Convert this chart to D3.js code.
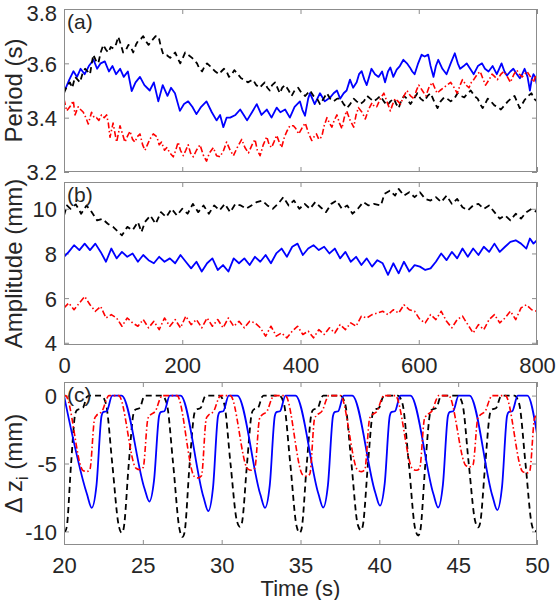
<!DOCTYPE html>
<html><head><meta charset="utf-8">
<script src="https://cdn.jsdelivr.net/npm/d3@7"></script>
<style>body{margin:0;background:#fff}svg{display:block}</style>
</head><body>
<svg id="chart" width="556" height="600"></svg>
<script>
// ---------- data ----------
const xTicksTop = [0, 200, 400, 600, 800];
const xTicksBottom = [20, 25, 30, 35, 40, 45, 50];
const periodTicks = [3.2, 3.4, 3.6, 3.8];
const ampTicks = [4, 6, 8, 10];
const dzTicks = [-10, -5, 0];

const periodBlue = [[0,3.50],[2,3.504],[9,3.54],[16,3.571],[22,3.55],[28,3.58],[35,3.56],[42,3.59],[50,3.613],[56,3.58],[62,3.60],[69,3.607],[76,3.57],[82,3.59],[88,3.56],[95,3.58],[101,3.55],[108,3.57],[114.5,3.498],[121,3.53],[128.5,3.55],[136,3.52],[145,3.50],[152,3.53],[159.5,3.46],[167,3.52],[175,3.48],[181,3.51],[187.7,3.49],[196,3.425],[203,3.45],[210,3.46],[217,3.44],[224,3.413],[232,3.44],[241,3.46],[250,3.42],[258,3.39],[264,3.41],[269.5,3.365],[275,3.40],[281,3.40],[290,3.41],[298,3.43],[304,3.41],[309.6,3.39],[318,3.42],[326,3.45],[334,3.41],[343,3.43],[351,3.40],[359.7,3.437],[366,3.42],[374,3.43],[382,3.40],[390,3.44],[399,3.46],[403,3.43],[407.6,3.407],[413,3.47],[416,3.49],[424,3.45],[433,3.49],[441,3.46],[450,3.474],[456,3.49],[461.7,3.50],[467,3.47],[473,3.49],[478,3.50],[483.7,3.54],[489,3.51],[495,3.53],[499,3.56],[503.5,3.571],[508,3.54],[512,3.52],[516,3.55],[520,3.58],[526,3.56],[532,3.55],[538,3.57],[543,3.53],[548,3.57],[552,3.585],[557,3.55],[562.7,3.577],[568,3.59],[574,3.613],[580,3.60],[585,3.585],[589,3.57],[593,3.56],[599,3.60],[604.9,3.632],[610,3.625],[616,3.632],[620,3.59],[625,3.55],[629,3.59],[633,3.613],[640,3.58],[647,3.56],[654,3.60],[661,3.637],[666,3.60],[670,3.58],[676,3.59],[681,3.60],[687,3.58],[693,3.56],[700,3.59],[707,3.60],[712,3.58],[718,3.57],[725,3.59],[732,3.56],[736,3.58],[740,3.60],[745,3.57],[749,3.555],[755,3.57],[760,3.58],[766,3.56],[771,3.545],[775,3.56],[779,3.58],[784,3.55],[788,3.50],[791,3.54],[794,3.56],[797,3.55],[800,3.52]];

const periodRed = [[0,3.468],[4.5,3.425],[10,3.44],[15.8,3.462],[18.6,3.41],[24,3.44],[28,3.43],[32.7,3.42],[37,3.40],[41,3.377],[46.6,3.42],[51,3.40],[55,3.40],[59,3.39],[63.5,3.41],[68,3.40],[72,3.41],[75,3.38],[77.8,3.328],[83,3.38],[89,3.31],[94.7,3.37],[99,3.34],[103,3.31],[107,3.33],[111.6,3.35],[116,3.32],[120,3.31],[124,3.33],[128.5,3.34],[133,3.30],[137,3.28],[141,3.30],[145,3.32],[151,3.34],[157,3.33],[161,3.30],[165,3.31],[170,3.28],[174,3.29],[179,3.27],[184.8,3.256],[189,3.28],[193,3.31],[197,3.28],[201.7,3.26],[206,3.28],[210,3.30],[214,3.27],[218.6,3.256],[224,3.28],[230,3.30],[236,3.26],[241,3.24],[246,3.27],[252.6,3.29],[258,3.26],[264,3.256],[270,3.28],[275,3.31],[281,3.28],[286.6,3.26],[293,3.29],[300.6,3.32],[306,3.29],[312,3.27],[318,3.30],[323,3.32],[327,3.28],[331.6,3.26],[337,3.30],[343,3.33],[347,3.30],[351,3.29],[355,3.31],[359.7,3.335],[364,3.31],[368,3.29],[373,3.33],[377,3.35],[382,3.37],[388,3.37],[392,3.36],[397,3.34],[402,3.36],[408,3.38],[414,3.34],[419,3.316],[423,3.33],[427,3.34],[431,3.32],[436,3.33],[440,3.37],[444.7,3.40],[449,3.38],[453,3.365],[457,3.39],[461.6,3.41],[466,3.38],[470,3.36],[474,3.40],[478,3.425],[484,3.39],[490,3.365],[494,3.41],[498,3.437],[504,3.42],[509.6,3.395],[515,3.43],[521,3.455],[525,3.44],[529,3.44],[535,3.47],[541,3.49],[546,3.46],[552,3.425],[556,3.45],[560,3.47],[565,3.46],[569,3.45],[575,3.48],[580,3.50],[586,3.48],[592,3.47],[596,3.50],[600,3.52],[606,3.50],[612,3.48],[617,3.51],[623,3.53],[627,3.51],[631,3.49],[636,3.50],[642,3.51],[648,3.52],[654,3.53],[660,3.51],[665,3.49],[670,3.52],[674,3.54],[680,3.52],[685,3.51],[689,3.53],[693,3.54],[699,3.56],[704,3.57],[709,3.54],[713,3.52],[719,3.54],[724,3.56],[729,3.55],[733,3.54],[739,3.56],[744,3.57],[750,3.55],[755,3.53],[761,3.56],[766,3.575],[770,3.56],[775,3.55],[779,3.56],[783,3.57],[789,3.55],[794,3.53],[797,3.55],[800,3.55]];

const periodBlack = [[0,3.49],[1.7,3.50],[6,3.52],[10,3.53],[14,3.51],[18.6,3.55],[23,3.54],[27,3.53],[31,3.56],[35.8,3.58],[40,3.57],[44,3.56],[47,3.60],[49.6,3.632],[54,3.61],[58,3.60],[62,3.64],[66.5,3.668],[71,3.65],[75,3.64],[79,3.66],[83.5,3.655],[88,3.67],[91.8,3.698],[96,3.67],[100,3.64],[105,3.65],[109,3.668],[113,3.66],[117,3.64],[122,3.67],[126,3.685],[130,3.69],[134,3.70],[139,3.68],[143,3.668],[147,3.68],[151,3.69],[155,3.70],[160,3.698],[164,3.66],[168,3.632],[174,3.63],[179.6,3.62],[184,3.63],[188,3.64],[192,3.62],[196.6,3.60],[201,3.62],[205,3.64],[211,3.63],[216.6,3.62],[221,3.61],[225,3.60],[229,3.58],[233.6,3.57],[238,3.59],[242,3.60],[247,3.59],[251,3.58],[256,3.57],[262,3.56],[266,3.57],[270.7,3.58],[275,3.57],[279,3.55],[284,3.56],[288,3.575],[294,3.56],[299.6,3.545],[305,3.54],[311,3.53],[315,3.535],[319.6,3.54],[325,3.52],[331,3.51],[335,3.52],[339.6,3.53],[344,3.51],[348,3.50],[352,3.52],[357,3.53],[361,3.51],[365,3.49],[369,3.51],[374,3.52],[380,3.50],[385,3.48],[390,3.50],[396,3.51],[402,3.49],[408,3.48],[412,3.49],[416,3.50],[422,3.48],[428,3.47],[433,3.45],[439,3.47],[444.7,3.49],[450,3.47],[456,3.46],[462,3.47],[467.6,3.47],[473,3.45],[478.6,3.435],[484,3.45],[490,3.47],[495,3.46],[501,3.45],[507,3.46],[512.6,3.48],[518,3.47],[524,3.46],[530,3.47],[535,3.48],[541,3.46],[546.6,3.445],[552,3.46],[558,3.47],[562,3.45],[566,3.435],[570,3.46],[575,3.48],[580,3.47],[586,3.45],[592,3.47],[597.6,3.49],[603,3.47],[609,3.46],[615,3.48],[620,3.49],[626,3.46],[631.7,3.435],[637,3.46],[643,3.475],[648,3.47],[654,3.46],[660,3.47],[665.6,3.49],[671,3.48],[677,3.475],[683,3.49],[688,3.50],[694,3.48],[699.6,3.47],[704,3.45],[708,3.435],[712,3.45],[716.6,3.47],[722,3.46],[728,3.445],[733,3.44],[739,3.43],[745,3.445],[750.7,3.46],[756,3.47],[762,3.48],[766,3.46],[770.7,3.435],[775,3.45],[779,3.465],[785,3.48],[790.6,3.49],[795,3.47],[800,3.46]];

const ampBlack = [[0,9.70],[5,10.15],[11,10.0],[20,10.2],[29,9.78],[38,10.15],[47,9.85],[56,9.48],[65,9.55],[74,9.33],[83,9.19],[92,8.96],[98,8.81],[107,9.19],[116,9.04],[125,9.41],[131,8.96],[137,9.41],[146,9.70],[155,9.33],[164,9.85],[173,9.63],[182,10.0],[191,9.70],[200,10.0],[209,9.78],[218,10.22],[227,9.85],[236,10.15],[245,9.78],[254,10.15],[263,9.93],[272,10.22],[281,9.85],[290,10.22],[299,10.15],[308,10.0],[317,10.15],[326,10.3],[335,10.37],[344,10.15],[353,10.0],[362,10.22],[371,10.52],[380,10.15],[389,10.37],[398,10.0],[407,10.22],[416,10.0],[425,10.3],[434,10.07],[443,9.85],[452,10.22],[461,10.37],[470,10.0],[479,10.15],[488,9.78],[497,10.0],[506,10.3],[515,10.15],[524,10.22],[536,10.15],[542,10.67],[551,10.81],[560,10.59],[566,10.89],[575,10.59],[584,10.74],[593,10.52],[602,10.74],[611,10.44],[620,10.37],[629,10.52],[638,10.3],[647,10.59],[656,10.22],[665,10.44],[674,10.07],[683,9.93],[692,10.15],[701,10.22],[710,10.0],[719,10.15],[728,9.85],[737,9.56],[746,9.70],[755,9.48],[764,9.78],[773,9.56],[782,9.85],[791,10.0],[800,9.85]];

const ampBlue = [[0,7.85],[8,8.07],[17,8.37],[26,8.15],[35,8.44],[44,8.15],[53,8.44],[62,8.07],[71,7.63],[80,8.22],[89,7.78],[98,8.07],[107,7.85],[116,8.0],[125,7.63],[134,7.93],[143,7.70],[152,7.56],[161,7.85],[170,7.63],[179,7.78],[188,7.56],[197,7.93],[206,7.63],[215,7.33],[224,7.63],[233,7.19],[242,7.56],[251,7.78],[260,7.26],[269,7.48],[278,7.19],[287,7.78],[296,7.56],[305,7.78],[314,7.48],[323,7.85],[332,7.63],[341,7.93],[350,7.56],[359,8.0],[368,8.22],[377,7.85],[386,8.30],[395,8.44],[404,7.93],[413,8.22],[422,8.37],[431,8.15],[440,8.30],[449,8.0],[458,8.22],[467,7.78],[476,8.07],[485,7.63],[494,7.85],[503,7.48],[512,7.78],[521,7.41],[530,7.70],[539,7.56],[548,7.04],[557,7.56],[566,7.11],[575,7.63],[584,7.19],[593,7.48],[602,7.41],[611,7.26],[620,7.33],[629,7.63],[638,8.0],[647,7.70],[656,8.07],[665,7.78],[674,8.22],[683,7.85],[692,8.22],[701,7.93],[710,8.30],[719,8.07],[728,8.44],[737,8.07],[746,8.30],[755,8.52],[764,8.59],[773,8.44],[782,8.22],[788,8.67],[794,8.44],[800,8.59]];

const ampRed = [[0,5.56],[8,5.78],[17,5.48],[26,5.78],[35,6.07],[44,5.70],[53,5.41],[62,5.63],[71,5.11],[80,5.26],[89,5.11],[98,4.74],[107,5.11],[116,4.89],[125,4.74],[134,5.04],[143,4.67],[152,4.96],[161,4.59],[170,5.11],[179,4.74],[188,5.04],[197,4.67],[206,5.19],[215,4.81],[224,5.04],[233,4.67],[242,5.11],[251,4.74],[260,5.04],[269,4.67],[278,5.11],[287,4.74],[296,4.96],[305,4.67],[314,4.96],[323,4.89],[332,4.67],[341,4.30],[350,4.74],[359,4.30],[368,4.44],[377,4.22],[386,4.52],[395,4.74],[404,4.37],[413,4.52],[422,4.22],[431,4.59],[440,4.37],[449,4.67],[458,4.44],[467,4.81],[476,4.59],[485,4.89],[494,4.74],[503,5.19],[512,5.11],[521,5.26],[530,5.33],[539,5.41],[548,5.26],[557,5.48],[566,5.33],[575,5.70],[584,5.48],[593,5.41],[602,5.04],[611,4.89],[620,5.26],[629,5.04],[638,5.41],[647,4.96],[656,4.67],[665,5.04],[674,5.19],[683,4.81],[692,4.44],[701,4.81],[710,4.59],[719,5.04],[728,5.26],[737,4.89],[746,5.11],[755,5.41],[764,5.04],[773,5.56],[782,5.70],[791,5.48],[800,5.41]];

const dzBlue = [[20.0,0],[21.46,-7.27],[21.76,-8.26],[22.06,-6.61],[22.38,-1.5],[22.48,-1.22],[22.71,-1.15],[23.06,0],
 [23.65,0],[25.11,-6.86],[25.41,-7.8],[25.71,-6.24],[26.03,-1.5],[26.13,-1.22],[26.36,-1.15],[26.71,0],
 [27.39,0],[28.85,-7.48],[29.15,-8.5],[29.45,-6.8],[29.77,-1.5],[29.87,-1.22],[30.10,-1.15],[30.45,0],
 [30.99,0],[32.45,-7.27],[32.75,-8.26],[33.05,-6.61],[33.37,-1.5],[33.47,-1.22],[33.70,-1.15],[34.05,0],
 [34.68,0],[36.14,-7.25],[36.44,-8.24],[36.74,-6.59],[37.06,-1.5],[37.16,-1.22],[37.39,-1.15],[37.74,0],
 [38.28,0],[39.74,-7.13],[40.04,-8.1],[40.34,-6.48],[40.66,-1.5],[40.76,-1.22],[40.99,-1.15],[41.34,0],
 [41.97,0],[43.43,-7.25],[43.73,-8.24],[44.03,-6.59],[44.35,-1.5],[44.45,-1.22],[44.68,-1.15],[45.03,0],
 [45.72,0],[47.18,-7.42],[47.48,-8.43],[47.78,-6.74],[48.10,-1.5],[48.20,-1.22],[48.43,-1.15],[48.78,0],
 [49.39,0],[50.0,-2.8]];

const dzBlack = [[20.0,-9.97],[20.05,-10],[20.17,-9.7],[20.45,-5.0],[20.72,-1.3],[20.85,-1.05],[21.2,-0.9],[21.45,-0.1],[21.6,0],[22.36,0],[22.66,-0.6],[23.06,-5.0],[23.46,-9.5],[23.66,-10.1],
 [23.78,-9.8],[24.11,-5.0],[24.41,-1.3],[24.51,-1.05],[24.81,-0.9],[25.06,-0.1],[25.16,0],[26.22,0],[26.52,-0.6],[26.92,-5.0],[27.32,-9.8],[27.52,-10.4],
 [27.64,-10.1],[27.97,-5.0],[28.27,-1.3],[28.37,-1.05],[28.67,-0.9],[28.92,-0.1],[29.02,0],[29.86,0],[30.16,-0.6],[30.56,-5.0],[30.96,-9.2],[31.16,-9.66],
 [31.28,-9.4],[31.61,-5.0],[31.91,-1.3],[32.01,-1.05],[32.31,-0.9],[32.56,-0.1],[32.66,0],[33.65,0],[33.95,-0.6],[34.35,-5.0],[34.75,-9.6],[34.95,-10.1],
 [35.07,-9.8],[35.40,-5.0],[35.70,-1.3],[35.80,-1.05],[36.10,-0.9],[36.35,-0.1],[36.45,0],[37.53,0],[37.83,-0.6],[38.23,-5.0],[38.63,-9.5],[38.83,-9.9],
 [38.95,-9.6],[39.28,-5.0],[39.58,-1.3],[39.68,-1.05],[39.98,-0.9],[40.23,-0.1],[40.33,0],[41.17,0],[41.47,-0.6],[41.87,-5.0],[42.27,-9.8],[42.47,-10.3],
 [42.59,-10.0],[42.92,-5.0],[43.22,-1.3],[43.32,-1.05],[43.62,-0.9],[43.87,-0.1],[43.97,0],[44.97,0],[45.27,-0.6],[45.67,-5.0],[46.07,-9.2],[46.27,-9.7],
 [46.39,-9.4],[46.72,-5.0],[47.02,-1.3],[47.12,-1.05],[47.42,-0.9],[47.67,-0.1],[47.77,0],[48.57,0],[48.87,-0.6],[49.27,-5.0],[49.67,-9.5],[49.87,-10.0],[50.0,-9.9]];

const dzRed = [[20.0,0],[20.09,0],[21.19,-5.5],[21.44,-5.6],[21.64,-5.45],[21.94,-1.7],[22.04,-1.5],[22.44,-1.1],[22.69,-0.3],[22.84,0],
 [23.47,0],[24.57,-5.35],[24.82,-5.45],[25.02,-5.3],[25.32,-1.7],[25.42,-1.5],[25.82,-1.1],[26.07,-0.3],[26.22,0],
 [27.17,0],[28.27,-5.96],[28.52,-6.06],[28.72,-5.91],[29.02,-1.7],[29.12,-1.5],[29.52,-1.1],[29.77,-0.3],[29.92,0],
 [30.55,0],[31.65,-5.4],[31.9,-5.5],[32.1,-5.35],[32.4,-1.7],[32.5,-1.5],[32.9,-1.1],[33.15,-0.3],[33.3,0],
 [34.04,0],[35.14,-5.83],[35.39,-5.93],[35.59,-5.78],[35.89,-1.7],[35.99,-1.5],[36.39,-1.1],[36.64,-0.3],[36.79,0],
 [37.53,0],[38.63,-5.5],[38.88,-5.6],[39.08,-5.45],[39.38,-1.7],[39.48,-1.5],[39.88,-1.1],[40.13,-0.3],[40.28,0],
 [41.01,0],[42.11,-5.4],[42.36,-5.5],[42.56,-5.35],[42.86,-1.7],[42.96,-1.5],[43.36,-1.1],[43.61,-0.3],[43.76,0],
 [44.39,0],[45.49,-5.15],[45.74,-5.25],[45.94,-5.1],[46.24,-1.7],[46.34,-1.5],[46.74,-1.1],[46.99,-0.3],[47.14,0],
 [47.99,0],[49.09,-5.6],[49.34,-5.7],[49.54,-5.55],[49.84,-1.7],[49.94,-1.5],[50.0,-1.45]];

// ---------- layout ----------
const svg = d3.select("#chart");
const FONT = "'Liberation Sans', Arial, sans-serif";
const TXT = "#262626", FRAME = "#8c8c8c";
const L = 64, R = 537;

const panels = [
  {id:"a", top:9,   bottom:172, xd:[0,800], yd:[3.2,3.8],  xt:xTicksTop, yt:periodTicks, xlab:false,
   ylab:"Period (s)", tag:"(a)", series:[[periodBlue,"blue"],[periodBlack,"black"],[periodRed,"red"]], curve:d3.curveLinear},
  {id:"b", top:182, bottom:345, xd:[0,800], yd:[3.9,11.2], xt:xTicksTop, yt:ampTicks, xlab:true,
   ylab:"Amplitude (mm)", tag:"(b)", series:[[ampBlue,"blue"],[ampBlack,"black"],[ampRed,"red"]], curve:d3.curveLinear},
  {id:"c", top:382, bottom:545, xd:[20,50], yd:[-11,1], xt:xTicksBottom, yt:dzTicks, xlab:true,
   ylab:null, tag:"(c)", series:[[dzBlack,"black"],[dzBlue,"blue"],[dzRed,"red"]], curve:d3.curveMonotoneX}
];

const styles = {
  blue:  {stroke:"#0000ff", dash:null, w:1.8},
  black: {stroke:"#000000", dash:"6,4", w:1.8},
  red:   {stroke:"#ff0000", dash:"6,2.5,1.5,2.5", w:1.6}
};

panels.forEach(p => {
  const x = d3.scaleLinear().domain(p.xd).range([L, R]);
  const y = d3.scaleLinear().domain(p.yd).range([p.bottom, p.top]);
  const g = svg.append("g");
  const clipId = "clip" + p.id;
  svg.append("clipPath").attr("id", clipId).append("rect")
    .attr("x", L).attr("y", p.top).attr("width", R - L).attr("height", p.bottom - p.top);

  // axes (ticks inward, mirrored)
  const tl = 5;
  const axB = d3.axisBottom(x).tickValues(p.xt).tickSizeInner(-tl).tickSizeOuter(0)
    .tickFormat(p.xlab ? d3.format("d") : () => "");
  const axT = d3.axisTop(x).tickValues(p.xt).tickSizeInner(-tl).tickSizeOuter(0).tickFormat(() => "");
  const axLft = d3.axisLeft(y).tickValues(p.yt).tickSizeInner(-tl).tickSizeOuter(0)
    .tickFormat(d => d3.format(p.id === "a" ? ".1f" : "d")(d).replace("\u2212", "-"));
  const axRt = d3.axisRight(y).tickValues(p.yt).tickSizeInner(-tl).tickSizeOuter(0).tickFormat(() => "");

  const gB = g.append("g").attr("transform", `translate(0,${p.bottom})`).call(axB);
  const gT = g.append("g").attr("transform", `translate(0,${p.top})`).call(axT);
  const gL = g.append("g").attr("transform", `translate(${L},0)`).call(axLft);
  const gR = g.append("g").attr("transform", `translate(${R},0)`).call(axRt);
  [gB, gT, gL, gR].forEach(a => {
    a.select(".domain").remove();
    a.selectAll(".tick line").attr("stroke", FRAME).attr("stroke-width", 1);
    a.selectAll(".tick text").attr("fill", TXT).style("font-family", FONT).style("font-size", "22px");
  });
  // keep the topmost label inside the picture
  gL.selectAll(".tick text").attr("x", -7)
    .attr("dy", d => (p.id === "a" && d === 3.8) ? "0.52em" : "0.36em");
  gB.selectAll(".tick text").attr("y", 12).attr("dy", "0.71em");

  // lines
  const line = d3.line().x(d => x(d[0])).y(d => y(d[1])).curve(p.curve);
  const lg = g.append("g").attr("clip-path", `url(#${clipId})`);
  p.series.forEach(([data, key]) => {
    const st = styles[key];
    lg.append("path").datum(data).attr("d", line)
      .attr("fill", "none").attr("stroke", st.stroke).attr("stroke-width", st.w)
      .attr("stroke-dasharray", st.dash).attr("stroke-linejoin", "round");
  });

  // frame
  g.append("rect").attr("x", L + 0.5).attr("y", p.top + 0.5)
    .attr("width", R - L - 1).attr("height", p.bottom - p.top - 1)
    .attr("fill", "none").attr("stroke", FRAME).attr("stroke-width", 1);

  // panel tag
  g.append("text").attr("x", L + 3).attr("y", p.top + 20).text(p.tag)
    .attr("fill", TXT).style("font-family", FONT).style("font-size", "21px");

  // y label
  const cy = (p.top + p.bottom) / 2;
  const yl = g.append("text").attr("transform", `translate(22,${cy}) rotate(-90)`)
    .attr("text-anchor", "middle").attr("fill", TXT)
    .style("font-family", FONT).style("font-size", "24px");
  if (p.ylab) yl.text(p.ylab);
  else {
    yl.append("tspan").text("\u0394 z");
    yl.append("tspan").text("i").attr("dy", 6).style("font-size", "16px");
    yl.append("tspan").text(" (mm)").attr("dy", -6);
  }
});

svg.append("text").attr("x", (L + R) / 2).attr("y", 596).attr("text-anchor", "middle")
  .attr("fill", TXT).style("font-family", FONT).style("font-size", "22px").text("Time (s)");
</script>
</body></html>
